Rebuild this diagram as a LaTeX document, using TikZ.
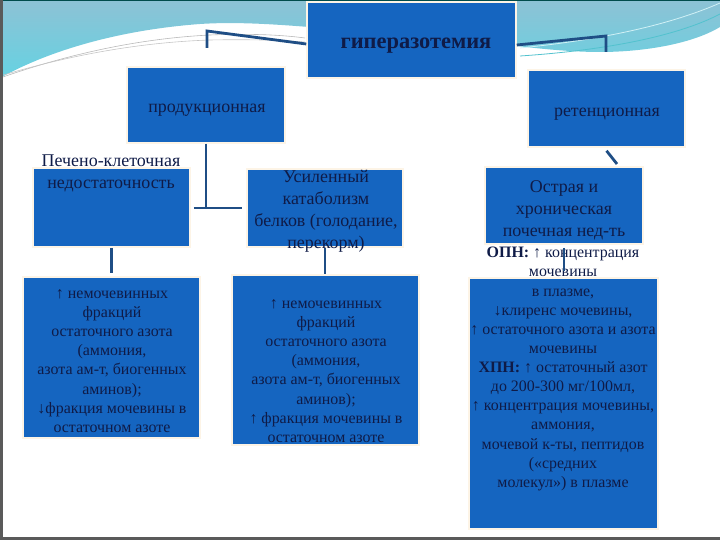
\documentclass[tikz,border=0pt]{standalone}
\usepackage{fontspec}
\setmainfont{Liberation Serif}
\usetikzlibrary{positioning}
\definecolor{boxblue}{HTML}{1565C0}
\definecolor{linkblue}{HTML}{1F4E85}
\definecolor{inkblue}{HTML}{0F1B47}
\definecolor{bandtop}{HTML}{8DC2D5}
\definecolor{bandlow}{HTML}{66D2E2}
\definecolor{glow}{HTML}{FDF4E6}
\definecolor{frame}{HTML}{5A5A5A}

\begin{document}
\begin{tikzpicture}[x=1bp, y=-1bp,
  blok/.style={fill=boxblue, draw=glow, line width=1.5bp, inner sep=0pt},
  svyaz/.style={draw=linkblue, line width=2.8bp},
  textbig/.style={text=inkblue, align=center, inner sep=0pt, font=\fontsize{18}{22}\selectfont},
  textsmall/.style={text=inkblue, align=center, inner sep=0pt, font=\fontsize{16}{19.2}\selectfont},
]
  \useasboundingbox (0,0) rectangle (720,540);

  % slide background band
  \shade[top color=bandtop, bottom color=bandlow] (0,0) -- (720,0) -- (720,27)
    .. controls (690,45) and (640,52) .. (600,52)
    .. controls (540,52) and (470,38) .. (411,35)
    .. controls (330,30) and (260,20) .. (200,24)
    .. controls (120,30) and (50,50) .. (0,78) -- cycle;
  \draw[gray!55, line width=0.6bp] (0,78) .. controls (80,50) and (150,38) .. (210,35) .. controls (260,33) and (290,36) .. (305,38);
  \draw[gray!45, line width=0.6bp] (0,76) .. controls (80,52) and (150,42) .. (210,40) .. controls (260,39) and (290,41) .. (305,42);
  \draw[white!70!bandlow, line width=0.8bp] (520,48) .. controls (600,40) and (670,25) .. (720,3);
  \draw[bandlow!80!teal, line width=0.8bp] (520,56) .. controls (610,50) and (680,35) .. (720,14);
  \draw[teal!60!black, line width=1bp] (0,0.5) -- (720,0.5);
  \draw[frame, line width=3bp] (1.5,0) -- (1.5,540);
  \draw[frame, line width=3bp] (0,538.5) -- (720,538.5);

  % boxes
  \node[blok, minimum width=209bp, minimum height=76bp] (giper) at (411.5,40) {};
  \node[blok, minimum width=158bp, minimum height=76bp] (prod) at (206,105) {};
  \node[blok, minimum width=157bp, minimum height=77bp] (ret) at (606.5,108.5) {};
  \node[blok, minimum width=157bp, minimum height=79bp] (pechen) at (111.5,207.5) {};
  \node[blok, minimum width=156bp, minimum height=78bp] (katab) at (325,208) {};
  \node[blok, minimum width=158bp, minimum height=77bp] (ost) at (564,205.5) {};
  \node[blok, minimum width=177bp, minimum height=161bp] (azotL) at (111.5,357.5) {};
  \node[blok, minimum width=187bp, minimum height=170bp] (azotM) at (325.5,360) {};
  \node[blok, minimum width=189bp, minimum height=251bp] (azotR) at (563.5,403.5) {};

  % texts
  \node[text=inkblue, inner sep=0pt, font=\fontsize{22.5}{26}\selectfont\bfseries] (giperTxt) at (416,46) {гиперазотемия};
  \node[textbig] (prodTxt) at (207,110) {продукционная};
  \node[textbig] (retTxt) at (607,114) {ретенционная};
  \node[textbig] (pechenTxt) at (111,173) {Печено-клеточная\\недостаточность};
  \node[textbig] (katabTxt) at (326,211.5) {Усиленный\\катаболизм\\белков (голодание,\\перекорм)};
  \node[textbig] (ostTxt) at (564,210) {Острая и\\хроническая\\почечная нед-ть};
  \node[textsmall] (azotLTxt) at (112,361) {↑ немочевинных\\фракций\\остаточного азота\\(аммония,\\азота ам-т, биогенных\\аминов);\\↓фракция мочевины в\\остаточном азоте};
  \node[textsmall] (azotMTxt) at (326,371) {↑ немочевинных\\фракций\\остаточного азота\\(аммония,\\азота ам-т, биогенных\\аминов);\\↑ фракция мочевины в\\остаточном азоте};
  \node[textsmall] (azotRTxt) at (563,369) {\textbf{ОПН:} ↑ концентрация\\мочевины\\в плазме,\\↓клиренс мочевины,\\↑ остаточного азота и азота\\мочевины\\\textbf{ХПН:} ↑ остаточный азот\\до 200-300 мг/100мл,\\↑ концентрация мочевины,\\аммония,\\мочевой к-ты, пептидов\\(«средних\\молекул») в плазме};

  % connectors
  \coordinate (prodKnee) at (207,31);
  \coordinate (retKnee) at (606,36);
  \coordinate (tjun) at (206,208);
  \coordinate (retStub) at (617,164);
  \draw[svyaz] ([yshift=-4bp]giper.west) -- (prodKnee) -- ++(0,17);
  \draw[svyaz] ([yshift=-5bp]giper.east) -- (retKnee) -- ++(0,16);
  \draw[svyaz] (prod.south) -- (tjun);
  \draw[svyaz] ([xshift=3bp]pechen.east |- tjun) -- ([xshift=-4bp]katab.west |- tjun);
  \draw[svyaz] ([yshift=-3bp]ret.south) -- (retStub);
  \draw[svyaz] (pechen.south) -- ([yshift=3bp]azotL.north);
  \draw[svyaz] (katab.south) -- (katab.south |- azotM.north);
  \draw[svyaz] ([yshift=-3bp]ost.south) -- ([yshift=6bp]ost.south |- azotR.north);
\end{tikzpicture}
\end{document}
